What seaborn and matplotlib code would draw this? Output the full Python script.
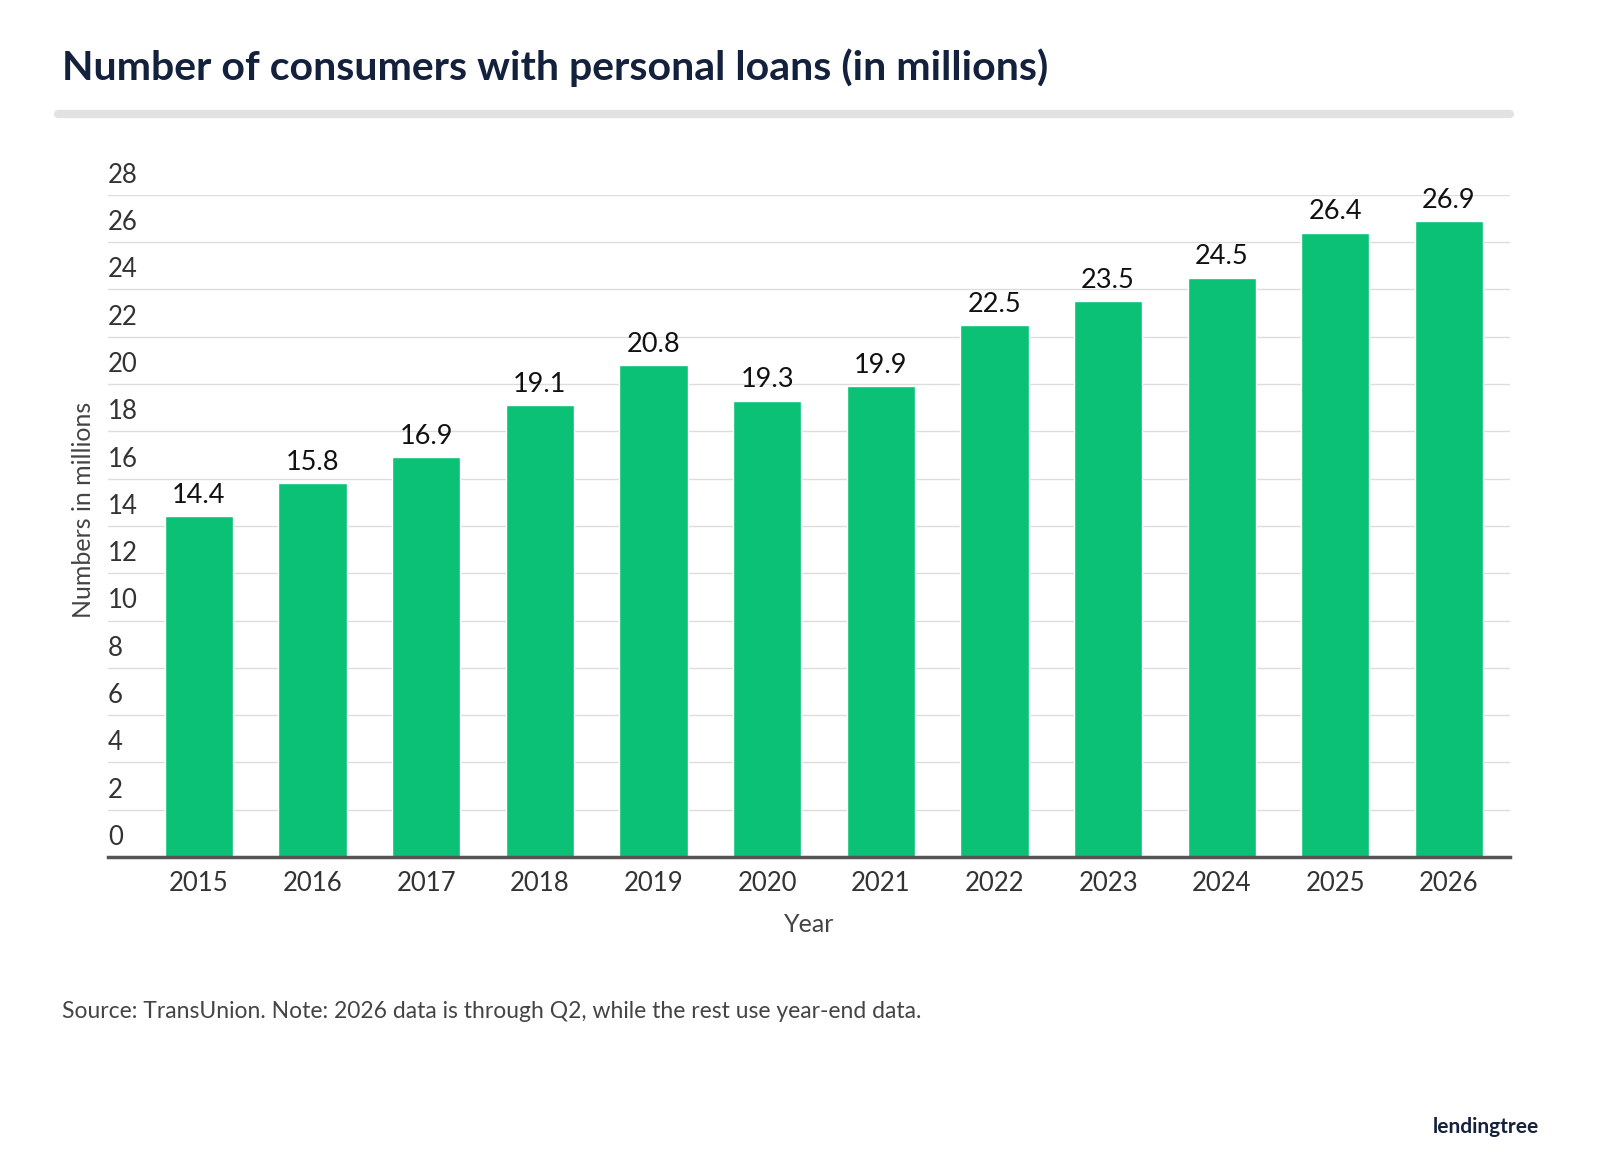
import matplotlib
matplotlib.use("Agg")
import matplotlib.pyplot as plt
import matplotlib.transforms as mtransforms
import seaborn as sns
import pandas as pd

years = ["2015","2016","2017","2018","2019","2020","2021","2022","2023","2024","2025","2026"]
values = [14.4,15.8,16.9,19.1,20.8,19.3,19.9,22.5,23.5,24.5,26.4,26.9]
yticks = list(range(0, 30, 2))

sns.set_theme(style="white")
plt.rcParams['font.family'] = ['Lato', 'DejaVu Sans']

fig = plt.figure(figsize=(16, 11.74), dpi=100)
ax = fig.add_axes([0.0675, 0.27, 0.944-0.0675, 0.834-0.27])
df = pd.DataFrame({"Year": years, "Value": values})
sns.barplot(data=df, x="Year", y="Value", color="#0bc175", saturation=1, width=0.6, ax=ax)
ax.set_xlim(-0.8, 11.54)
ax.set_ylim(0, 28)
for i, v in enumerate(values):
    ax.text(i, v + 0.35, f"{v:.1f}", ha="center", va="bottom", fontsize=19.5, color="#111111")
ax.set_yticks(yticks)
ax.set_yticklabels([])
ax.tick_params(axis="y", length=0)
ax.tick_params(axis="x", length=0, labelsize=18.5, colors="#333333", pad=10)
ax.grid(axis="y", color="#dddddd", linewidth=1)
ax.set_axisbelow(True)
tr = mtransforms.blended_transform_factory(ax.transAxes, ax.transData)
for t in yticks:
    ax.text(0.0, t + 0.3, str(t), transform=tr, ha="left", va="bottom", fontsize=18.5, color="#333333")
for s in ["top", "right", "left"]:
    ax.spines[s].set_visible(False)
ax.spines["bottom"].set_color("#555555")
ax.spines["bottom"].set_linewidth(2.5)
ax.set_xlabel("Year", fontsize=18, color="#444444", labelpad=12)
ax.set_ylabel("")
fig.text(0.052, 0.566, "Numbers in millions", rotation=90, ha="center", va="center", fontsize=18, color="#444444")

fig.text(0.039, 0.942, "Number of consumers with personal loans (in millions)", fontsize=29.5, fontweight="bold", color="#14213d", va="center")
fig.add_artist(plt.Line2D([0.036, 0.944], [0.903, 0.903], color="#e2e2e2", linewidth=6, transform=fig.transFigure))
fig.text(0.039, 0.138, "Source: TransUnion. Note: 2026 data is through Q2, while the rest use year-end data.", fontsize=16.5, color="#444444", va="center")
fig.text(0.962, 0.04, "lendingtree", fontsize=15, fontweight="bold", color="#14213d", ha="right", va="center")

fig.savefig("out.png", dpi=100)
